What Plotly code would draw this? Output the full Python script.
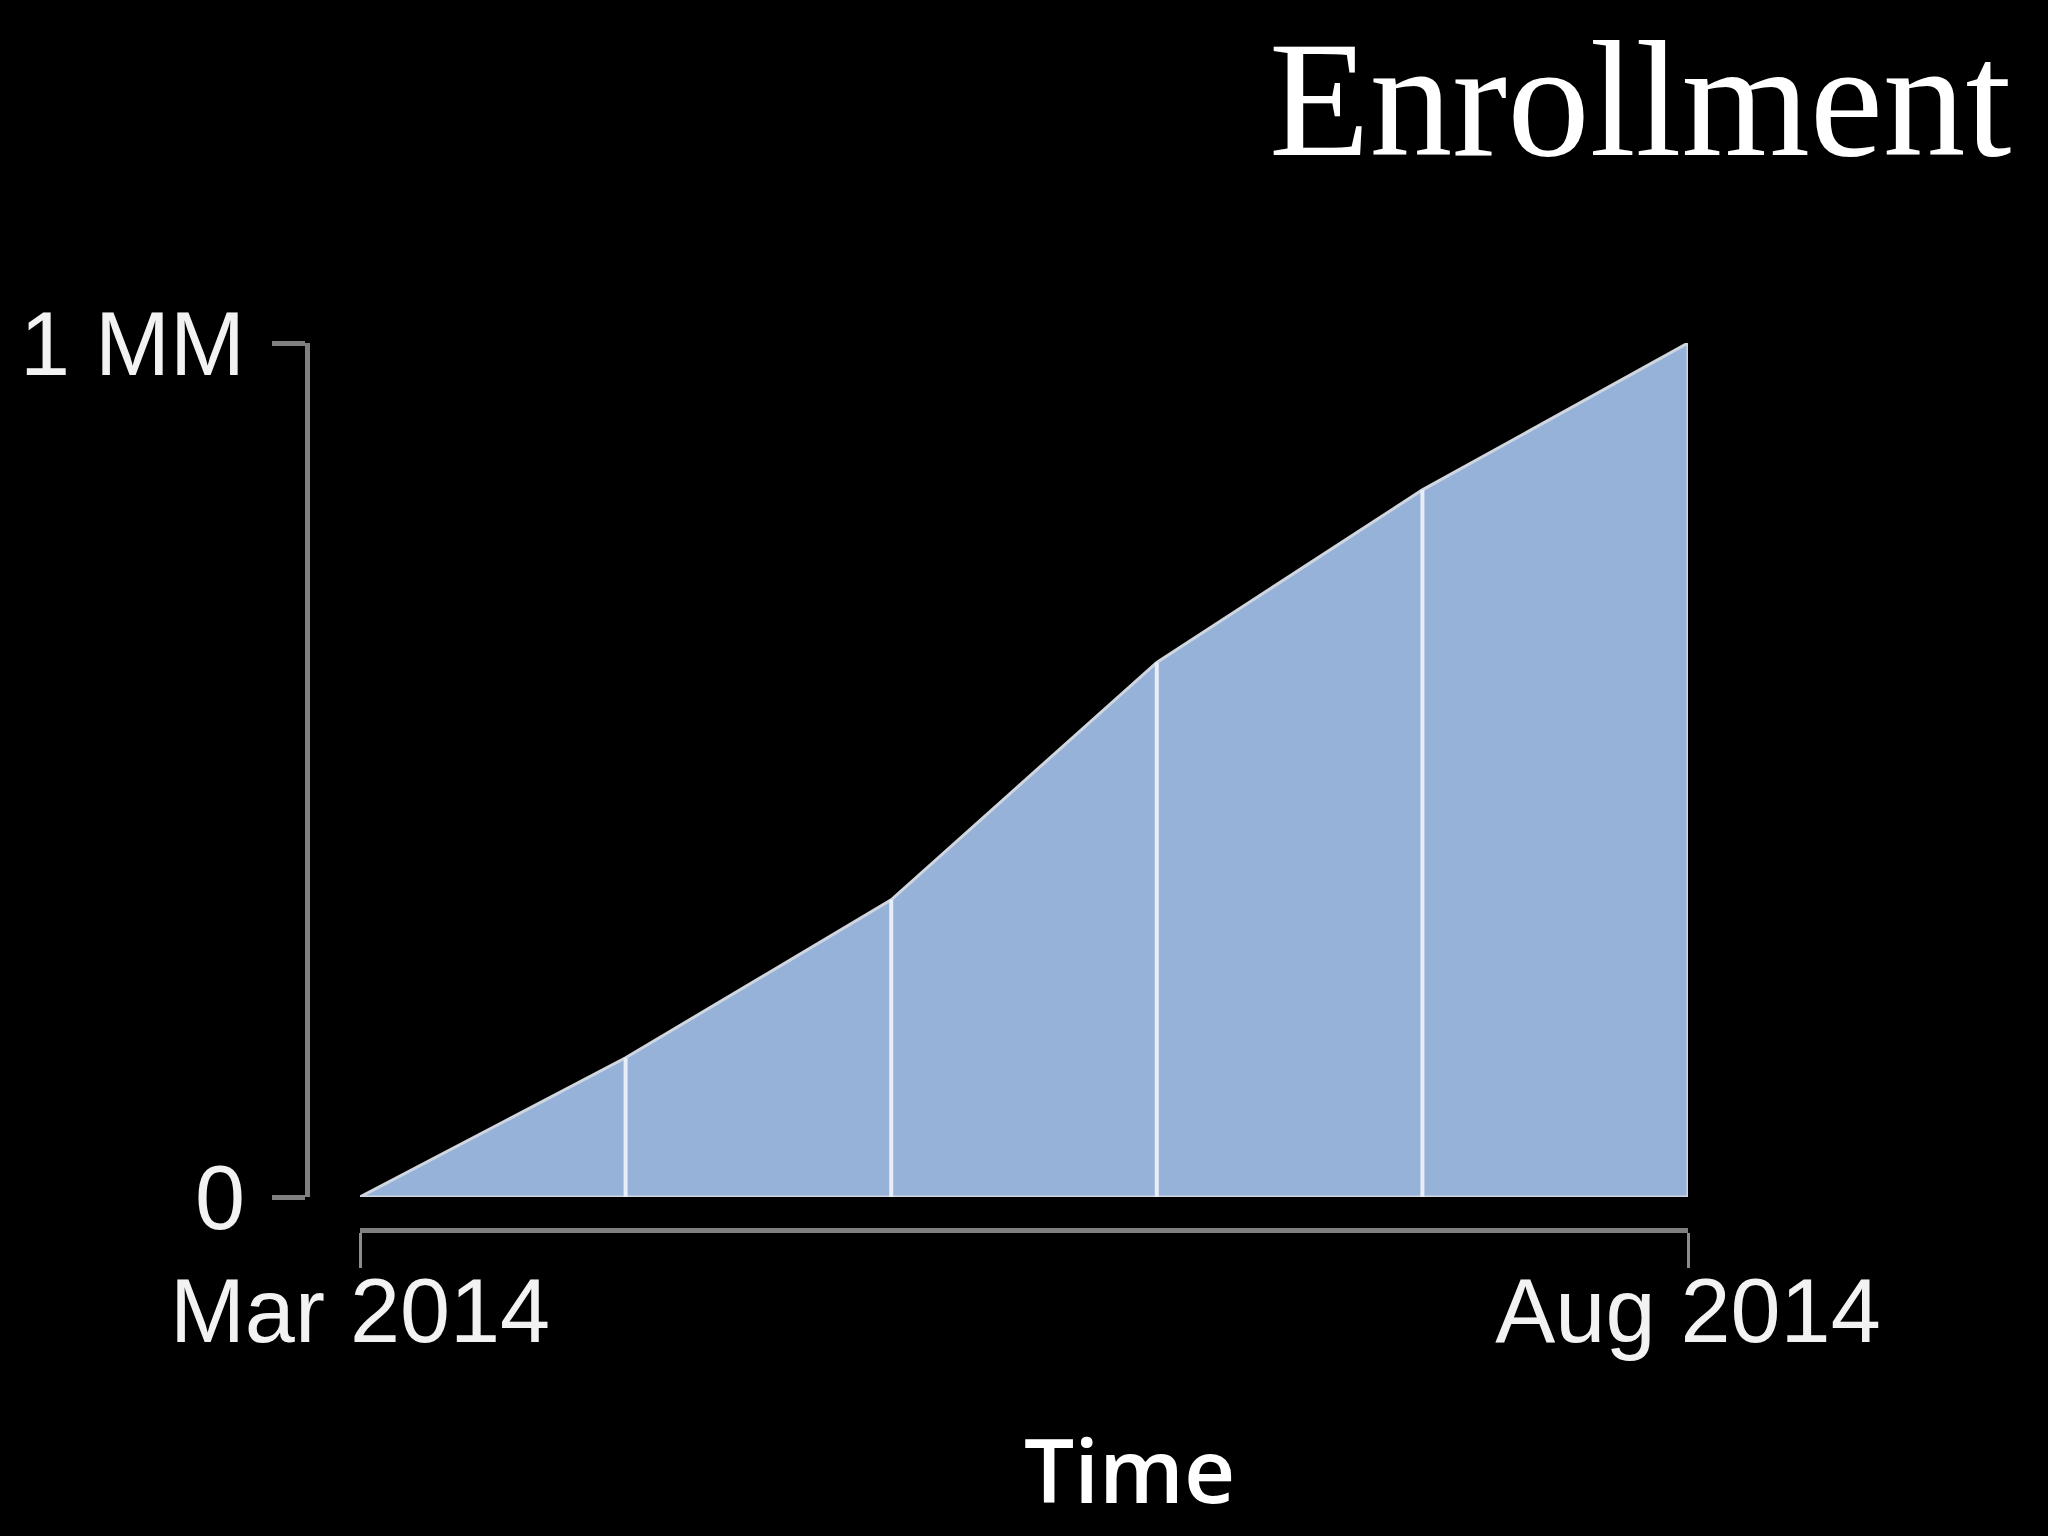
import plotly.graph_objects as go

# Data
months = ["Mar 2014", "Apr 2014", "May 2014", "Jun 2014", "Jul 2014", "Aug 2014"]
enrollment = [0, 163000, 348000, 626000, 828000, 1000000]
x_tickvals = ["Mar 2014", "Aug 2014"]
x_ticktext = ["Mar 2014", "Aug 2014"]
y_tickvals = [0, 1000000]
y_ticktext = ["0", "1 MM"]

W, H = 2048, 1536
FILL = "#97b2d8"
EDGE = "#cfd6e0"
DIVIDER = "#e8eef7"
AXIS = "#808080"
TEXT = "#f2f2f2"

fig = go.Figure()

# Filled area (closed polygon so bottom and right edges get the outline)
fig.add_trace(go.Scatter(
    x=months + [months[-1], months[0]],
    y=enrollment + [0, 0],
    mode="lines",
    fill="toself",
    fillcolor=FILL,
    line=dict(color=EDGE, width=3),
    hoverinfo="skip",
    showlegend=False,
))

# Vertical divider lines at interior months
vx, vy = [], []
for m, v in zip(months[1:-1], enrollment[1:-1]):
    vx += [m, m, None]
    vy += [0, v, None]
fig.add_trace(go.Scatter(
    x=vx, y=vy, mode="lines",
    line=dict(color=DIVIDER, width=4),
    hoverinfo="skip", showlegend=False,
))

fig.update_layout(
    template="none",
    width=W, height=H,
    margin=dict(l=0, r=0, t=0, b=0, pad=0),
    paper_bgcolor="black",
    plot_bgcolor="black",
    showlegend=False,
    xaxis=dict(
        type="category",
        categoryorder="array",
        categoryarray=months,
        domain=[360 / W, 1688 / W],
        range=[0, len(months) - 1],
        anchor="free",
        position=1 - 1230 / H,
        automargin=False,
        showline=True, linecolor=AXIS, linewidth=5,
        ticks="outside", ticklen=35, tickwidth=3, tickcolor="#8c8c8c",
        tickvals=x_tickvals, ticktext=x_ticktext,
        ticklabelstandoff=-34,
        tickfont=dict(family="Liberation Sans, Arial", size=90, color=TEXT),
        showgrid=False, zeroline=False,
    ),
    yaxis=dict(
        domain=[1 - 1197 / H, 1 - 343 / H],
        range=[0, 1000000],
        anchor="free",
        position=307 / W,
        automargin=False,
        showline=True, linecolor=AXIS, linewidth=5,
        ticks="outside", ticklen=33, tickwidth=5, tickcolor=AXIS,
        tickvals=y_tickvals, ticktext=y_ticktext,
        ticklabelstandoff=9,
        tickfont=dict(family="Liberation Sans, Arial", size=90, color=TEXT),
        showgrid=False, zeroline=False,
    ),
    annotations=[
        dict(
            text="Time", xref="paper", yref="paper",
            x=1129 / W, y=1 - 1468 / H, xanchor="center", yanchor="middle",
            showarrow=False,
            font=dict(family="Open Sans", size=89, color="white", weight=600),
        ),
        dict(
            text="Enrollment", xref="paper", yref="paper",
            x=2013 / W, y=1 - 100 / H, xanchor="right", yanchor="middle",
            showarrow=False,
            font=dict(family="Liberation Serif", size=165, color="white"),
        ),
    ],
)

fig.write_html(
    "out.html",
    config={"displayModeBar": False},
    post_script="document.body.style.margin='0';document.body.style.background='black';",
)
